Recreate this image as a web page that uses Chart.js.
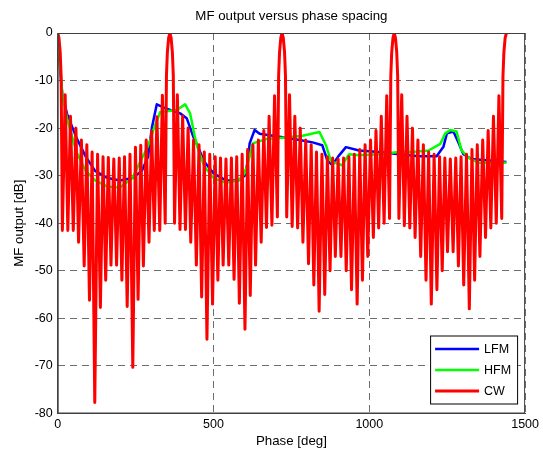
<!DOCTYPE html>
<html>
<head>
<meta charset="utf-8">
<script src="https://cdn.jsdelivr.net/npm/chart.js@4"></script>
<style>
  html, body { margin: 0; padding: 0; background: #fff; }
</style>
</head>
<body>
<canvas id="grafica" width="543" height="458"></canvas>
<script>
// Tick values
const xTicks = [0, 500, 1000, 1500];
const yTicks = [0, -10, -20, -30, -40, -50, -60, -70, -80];

// LFM (blue)
const lfmPhase = [0, 8, 15, 30, 60, 90, 120, 160, 200, 240, 270, 290, 302, 318, 345, 393, 414, 435, 446, 470,
  500, 540, 580, 600, 610, 616, 632, 648, 722, 776, 818, 849, 865, 881, 900, 925, 967, 1031, 1095, 1159,
  1216, 1238, 1249, 1270, 1286, 1302, 1328, 1440];
const lfmDb = [0, -8, -13, -17, -22, -26, -29, -30.5, -31, -30.5, -29, -26, -20, -15, -15.8, -16.9, -17.9, -21.8, -23.3, -27,
  -29.5, -31, -31, -30, -27, -23.2, -20.4, -21.2, -21.9, -22.5, -23, -23.6, -26.7, -27.8, -26, -24, -24.7, -25, -25.5, -25.9,
  -25.9, -23.9, -21.1, -20.7, -23, -25.5, -26.5, -27.1];

// HFM (green)
const hfmPhase = [0, 8, 15, 30, 60, 90, 120, 160, 200, 240, 265, 285, 300, 307, 329, 382, 409, 425, 440, 450,
  470, 500, 540, 580, 600, 616, 626, 670, 722, 786, 840, 861, 877, 913, 935, 967, 1031, 1095, 1137, 1190,
  1228, 1244, 1260, 1280, 1296, 1318, 1350, 1440];
const hfmDb = [0, -7, -13, -18, -25, -29, -31, -32.3, -32.5, -30.5, -27, -24.5, -22, -20.4, -16.6, -16.2, -15, -16.9, -21.8, -24.3,
  -28, -30.5, -31.5, -31, -29.5, -26, -23.2, -22.3, -22, -21.6, -20.8, -23.6, -27, -27.8, -25.5, -25.7, -25.5, -25, -25, -24.7,
  -23.3, -21.1, -20.4, -20.7, -24.7, -26.2, -27.3, -27.3];

// CW (red), one array pair per 360 deg period
const cwPhase1 = [0, 4, 8, 11, 15, 24, 32.5, 41, 50, 58.5, 67, 76, 85, 93.5, 102, 110.5, 119, 128, 137, 145.5, 154, 162.5, 171, 180,
  189, 197.5, 206, 214.5, 223, 232, 241, 249.5, 258, 266.5, 275, 284, 293, 301.5, 310, 318.5, 327.5, 336, 345, 349, 352, 356, 360];
const cwDb1 = [0, -1, -4, -9, -41.5, -13, -41.5, -17.5, -41.5, -20, -44, -22.5, -49, -23.5, -56.2, -25, -77.7, -25.5, -57.7, -26, -52, -26.2, -48.8, -26.5,
  -48.8, -26.3, -52, -26, -57.5, -25.5, -70.3, -24, -56, -23.6, -49, -22.5, -44, -20.6, -41.5, -17.6, -41.5, -13.1, -40, -9, -4, -1, 0];

const cwPhase2 = [364, 368, 371, 375, 384, 392.5, 401, 410, 418.5, 427, 436, 445, 453.5, 462, 470.5, 479, 488, 497, 505.5, 514, 522.5, 531, 540,
  549, 557.5, 566, 574.5, 583, 592, 601, 609.5, 618, 626.5, 635, 644, 653, 661.5, 670, 678.5, 687.5, 696, 705, 709, 712, 716, 720];
const cwDb2 = [-1, -4, -9, -40, -13, -41.3, -17.5, -41.3, -20, -44, -22.5, -48.8, -23.5, -55.5, -25, -64.4, -25.5, -57, -26, -52, -26.3, -48.8, -26.5,
  -48.8, -26.3, -51.8, -26, -56.8, -25.5, -62.3, -24.5, -55.2, -23.5, -48.8, -22.5, -44, -20.5, -40.9, -17.5, -40.4, -13.2, -38.7, -9, -4, -1, 0];

const cwPhase3 = [724, 728, 731, 735, 744, 752.5, 761, 770, 778.5, 787, 796, 805, 813.5, 822, 830.5, 839, 848, 857, 865.5, 874, 882.5, 891, 900,
  909, 917.5, 926, 934.5, 943, 952, 961, 969.5, 978, 986.5, 995, 1004, 1013, 1021.5, 1030, 1038.5, 1047.5, 1056, 1065, 1069, 1072, 1076, 1080];
const cwDb3 = [-1, -4, -9, -38.7, -13, -40.7, -17.5, -41, -20, -44, -22.5, -48.5, -23.5, -53, -25, -58.5, -25.5, -55, -26, -50, -26.3, -47, -26.5,
  -47, -26.3, -50, -26, -54, -25.5, -57, -24.5, -52, -23.5, -47, -22.5, -43, -20.5, -41, -17.5, -40, -13.2, -39, -9, -4, -1, 0];

const cwPhase4 = [1084, 1088, 1091, 1095, 1104, 1112.5, 1121, 1130, 1138.5, 1147, 1156, 1165, 1173.5, 1182, 1190.5, 1199, 1208, 1217, 1225.5, 1234, 1242.5, 1251, 1260,
  1269, 1277.5, 1286, 1294.5, 1303, 1312, 1321, 1329.5, 1338, 1346.5, 1355, 1364, 1373, 1381.5, 1390, 1398.5, 1407.5, 1416, 1425, 1429, 1432, 1436, 1440];
const cwDb4 = [-1, -4, -9, -39, -13, -40.5, -17.5, -41, -20, -43, -22.5, -47, -23.5, -52, -25, -57, -25.5, -54, -26, -50, -26.3, -46, -26.5,
  -46, -26.3, -49, -26, -53, -25.5, -58, -24.5, -52, -23.5, -47, -22.5, -43, -20.5, -41, -17.5, -40, -13.2, -39, -9, -4, -1, 0];

const cwPhase = cwPhase1.concat(cwPhase2, cwPhase3, cwPhase4);
const cwDb = cwDb1.concat(cwDb2, cwDb3, cwDb4);

const FONT = "'Liberation Sans', Arial, Helvetica, sans-serif";

function toPoints(xs, ys) {
  return xs.map((x, i) => ({ x: x, y: ys[i] }));
}

// title, box and legend drawn MATLAB style
const matlabDeco = {
  id: 'matlabDeco',
  afterDraw(chart) {
    const ctx = chart.ctx;
    const a = chart.chartArea;
    ctx.save();
    // axes box
    ctx.strokeStyle = '#404040';
    ctx.lineWidth = 1;
    ctx.strokeRect(a.left + 0.5, a.top + 0.5, a.right - a.left - 1, a.bottom - a.top - 1);
    // title
    ctx.fillStyle = '#000';
    ctx.font = '13.3px ' + FONT;
    ctx.textAlign = 'center';
    ctx.textBaseline = 'middle';
    ctx.fillText('MF output versus phase spacing', (a.left + a.right) / 2, 16);
    // legend
    const w = 87, h = 68;
    const x0 = a.right - 8 - w, y0 = a.bottom - 10 - h;
    ctx.fillStyle = '#fff';
    ctx.fillRect(x0, y0, w, h);
    ctx.strokeStyle = '#000';
    ctx.strokeRect(x0 + 0.5, y0 + 0.5, w, h);
    ctx.textAlign = 'left';
    ctx.font = '12.5px ' + FONT;
    chart.data.datasets.forEach((ds, i) => {
      const y = y0 + 13.5 + i * 21;
      ctx.strokeStyle = ds.borderColor;
      ctx.lineWidth = ds.borderWidth;
      ctx.beginPath();
      ctx.moveTo(x0 + 5, y);
      ctx.lineTo(x0 + 49, y);
      ctx.stroke();
      ctx.fillStyle = '#000';
      ctx.fillText(ds.label, x0 + 54, y + 0.5);
    });
    ctx.restore();
  }
};

new Chart(document.getElementById('grafica'), {
  type: 'line',
  data: {
    datasets: [
      { label: 'LFM', data: toPoints(lfmPhase, lfmDb), borderColor: '#0000ff', borderWidth: 2.5, order: 2 },
      { label: 'HFM', data: toPoints(hfmPhase, hfmDb), borderColor: '#00ff00', borderWidth: 2.5, order: 1 },
      { label: 'CW', data: toPoints(cwPhase, cwDb), borderColor: '#ff0000', borderWidth: 3, order: 0 }
    ]
  },
  options: {
    responsive: false,
    animation: false,
    devicePixelRatio: 1,
    datasets: { line: { pointRadius: 0, tension: 0, fill: false, borderJoinStyle: 'round' } },
    layout: { padding: { top: 33, right: 15.3, bottom: 0, left: 0 } },
    plugins: { legend: { display: false }, title: { display: false }, tooltip: { enabled: false } },
    scales: {
      x: {
        type: 'linear', min: 0, max: 1500,
        afterBuildTicks(s) { s.ticks = xTicks.map(v => ({ value: v })); },
        afterFit(s) { s.height = 44.5; },
        ticks: { color: '#000', font: { family: FONT, size: 12.5 }, padding: 4, maxRotation: 0, callback: v => String(v) },
        grid: { color: '#6e6e6e', lineWidth: 1, drawTicks: false },
        border: { display: true, color: '#404040', dash: [7, 5] },
        title: { display: true, text: 'Phase [deg]', color: '#000', font: { family: FONT, size: 13.3 }, padding: { top: 0, bottom: 9 } }
      },
      y: {
        type: 'linear', min: -80, max: 0,
        afterBuildTicks(s) { s.ticks = yTicks.map(v => ({ value: v })); },
        afterFit(s) { s.width = 57.7; },
        ticks: { color: '#000', font: { family: FONT, size: 12.5 }, padding: 5, callback: v => String(v) },
        grid: { color: '#6e6e6e', lineWidth: 1, drawTicks: false },
        border: { display: true, color: '#404040', dash: [7, 5] },
        title: { display: true, text: 'MF output [dB]', color: '#000', font: { family: FONT, size: 13.3 }, padding: { top: 11, bottom: 0 } }
      }
    }
  },
  plugins: [matlabDeco]
});
</script>
</body>
</html>
